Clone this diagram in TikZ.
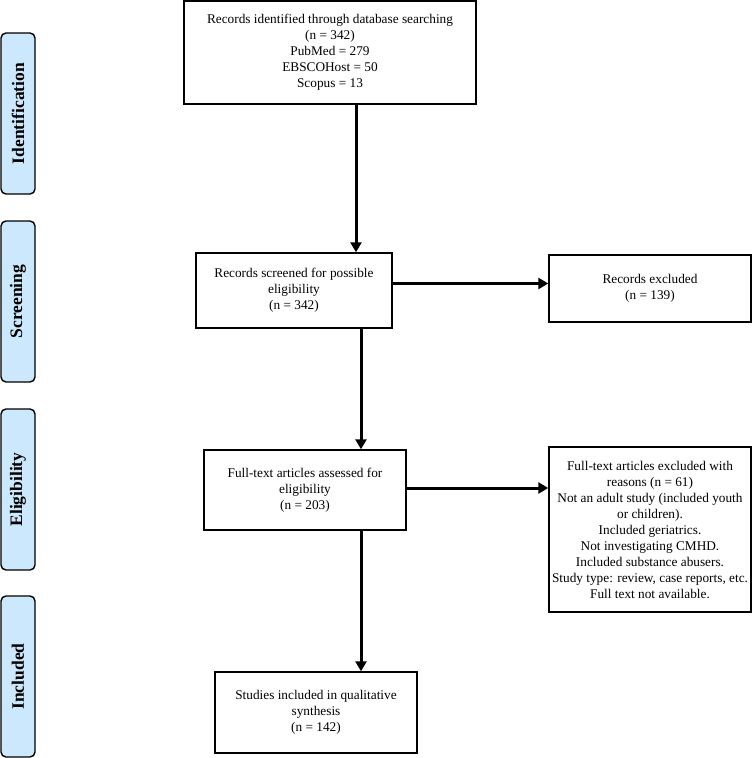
\documentclass[tikz,border=0pt]{standalone}
\usepackage{fontspec}
\setmainfont{Liberation Serif}
\usetikzlibrary{arrows.meta}

\definecolor{stageblue}{RGB}{204,232,252}
\tikzset{
  box/.style={draw, line width=1.4, align=center, inner sep=2pt, font=\fontsize{13.3}{16}\selectfont},
  stage/.style={draw, rounded corners=5, fill=stageblue, line width=1.4, rotate=90, minimum width=161, minimum height=34, inner sep=0pt, font=\fontsize{17.5}{20}\selectfont\bfseries},
  arrow/.style={line width=3, -{Triangle[length=10pt,width=11pt]}}
}

\begin{document}
\begin{tikzpicture}[x=1pt, y=1pt]
\useasboundingbox (0,0) rectangle (752,-758);

% stages on the left
\node[stage] (ident) at (18,-113.5) {Identification};
\node[stage] (screen) at (18,-301.5) {Screening};
\node[stage] (eligib) at (18,-489.5) {Eligibility};
\node[stage] (inclu) at (18,-676.5) {Included};

% flow boxes
\node[box, minimum width=292, minimum height=103] (rec) at (330,-52.5) {Records identified through database searching\\(n = 342)\\PubMed = 279\\EBSCOHost = 50\\Scopus = 13};
\node[box, minimum width=196, minimum height=75, below of = rec, node distance = 238, xshift = -36] (scr) {Records screened for possible\\eligibility\\(n = 342)};
\node[box, minimum width=202, minimum height=67, right of = scr, node distance = 356, yshift = 2] (excl) {Records excluded\\(n = 139)};
\node[box, minimum width=202, minimum height=80, below of = scr, node distance = 199.5, xshift = 11] (elig) {Full-text articles assessed for\\eligibility\\(n = 203)};
\node[box, minimum width=202, minimum height=165, right of = elig, node distance = 345, yshift = -39.5] (fullexcl) {Full-text articles excluded with\\reasons (n = 61)\\Not an adult study (included youth\\or children).\\Included geriatrics.\\Not investigating CMHD.\\Included substance abusers.\\Study type: review, case reports, etc.\\Full text not available.};
\node[box, minimum width=202, minimum height=81, below of = elig, node distance = 222.5, xshift = 11] (incl) {Studies included in qualitative\\synthesis\\(n = 142)};

% arrows
\draw[arrow] ([xshift=26]rec.south) -- ([xshift=26]rec.south |- scr.north);
\draw[arrow] ([yshift=7]scr.east) -- ([yshift=7]scr.east -| excl.west);
\draw[arrow] ([xshift=67]scr.south) -- ([xshift=67]scr.south |- elig.north);
\draw[arrow] ([yshift=2]elig.east) -- ([yshift=2]elig.east -| fullexcl.west);
\draw[arrow] ([xshift=56]elig.south) -- ([xshift=56]elig.south |- incl.north);

\end{tikzpicture}
\end{document}
